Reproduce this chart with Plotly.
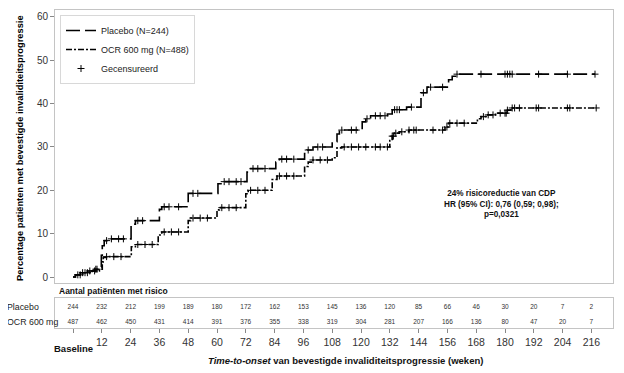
import numpy as np
import plotly.graph_objects as go

# ---------------- data ----------------
placebo_t = [0, 1, 3, 6, 9, 11, 11.8, 12.2, 13, 15, 24.2, 26, 36, 37, 48, 60.4, 62, 72.5, 74,
             84.5, 86, 96.5, 97.5, 100, 108, 110, 111, 120.5, 122, 124, 131, 133, 139, 145,
             147.5, 156.5, 158, 160, 217.5]
placebo_p = [0, 0.5, 1.0, 1.4, 1.8, 2.3, 5.0, 7.2, 8.4, 8.8, 12.2, 13.0, 15.6, 16.2, 19.3, 21.5,
             22.0, 24.2, 25.0, 26.5, 27.2, 28.5, 29.3, 30.0, 31.2, 33.0, 33.9, 35.8, 36.5, 37.2,
             37.6, 38.6, 39.2, 42.5, 43.8, 45.5, 46.3, 46.8, 46.8]
placebo_cens = [2, 4, 5, 7, 9.5, 10, 14, 16, 19, 21, 27, 29, 38, 40, 44, 50, 52, 63, 65, 68, 70,
                75, 77, 80, 87, 89, 92, 98, 102, 104, 112, 116, 118, 122.5, 126, 128, 130, 134,
                135, 136, 141, 146, 149, 154, 160, 170, 180, 181, 182, 183, 194, 206, 217.5]

ocr_t = [0, 1, 4, 8, 11, 12.2, 12.6, 14, 24.3, 26, 35.5, 37, 48, 49, 60, 61, 72, 73, 83, 85,
         96.5, 98, 100, 108, 110, 112, 132, 133, 134, 136, 140, 155, 156.5, 168.5, 170, 172, 176,
         181, 182.5, 218]
ocr_p = [0, 0.5, 1.0, 1.4, 1.8, 3.5, 4.5, 4.7, 7.0, 7.5, 9.7, 10.4, 13.0, 13.6, 15.5, 16.0,
         19.2, 20.0, 22.5, 23.3, 25.5, 26.5, 27.0, 27.5, 29.8, 30.0, 31.5, 32.5, 33.2, 33.5, 33.9,
         34.6, 35.5, 36.5, 37.0, 37.4, 37.8, 38.5, 39.0, 39.0]
ocr_cens = [3, 6, 9, 14, 17, 20, 27, 30, 33, 38, 41, 44, 50, 53, 56, 62, 65, 68, 74, 77, 80, 86,
            89, 92, 100, 103, 106, 113, 116, 119, 122, 126, 128, 131, 133, 133.5, 134.5, 137, 140,
            142, 143, 150, 154, 155.8, 157, 160, 163, 171, 173, 175, 178, 180, 180.5, 181, 183,
            184, 186, 193, 194, 206, 207, 218]

risk_weeks = list(range(0, 217, 12))
risk_placebo = [244, 232, 212, 199, 189, 180, 172, 162, 153, 145, 136, 120, 85, 66, 46, 30, 20, 7, 2]
risk_ocr = [487, 462, 450, 431, 414, 391, 376, 355, 338, 319, 304, 281, 207, 166, 136, 80, 47, 20, 7]

y_ticks = [0, 10, 20, 30, 40, 50, 60]


def step_at(ts, ps, c):
    ts = np.asarray(ts); ps = np.asarray(ps)
    idx = np.searchsorted(ts, c, side="right") - 1
    return ps[np.clip(idx, 0, len(ps) - 1)]


FONT = "Liberation Sans, Arial, sans-serif"
GRID = "#c4c4c4"

fig = go.Figure()

fig.add_trace(go.Scatter(x=placebo_t, y=placebo_p, mode="lines", line_shape="hv",
                         line=dict(color="black", width=1.6, dash="14px,5px"),
                         name="Placebo (N=244)", xaxis="x", yaxis="y"))
fig.add_trace(go.Scatter(x=ocr_t, y=ocr_p, mode="lines", line_shape="hv",
                         line=dict(color="black", width=1.6, dash="6px,2px,2px,2px"),
                         name="OCR 600 mg (N=488)", xaxis="x", yaxis="y"))
cmarker = dict(symbol="cross-thin", size=5, color="black", line=dict(color="black", width=1))
fig.add_trace(go.Scatter(x=placebo_cens, y=step_at(placebo_t, placebo_p, placebo_cens),
                         mode="markers", marker=cmarker, showlegend=False,
                         name="Gecensureerd", xaxis="x", yaxis="y"))
fig.add_trace(go.Scatter(x=ocr_cens, y=step_at(ocr_t, ocr_p, ocr_cens),
                         mode="markers", marker=cmarker, showlegend=True,
                         name="Gecensureerd", xaxis="x", yaxis="y"))

# risk table
fig.add_trace(go.Scatter(x=risk_weeks, y=[0.7] * len(risk_weeks), mode="text",
                         text=[str(v) for v in risk_placebo],
                         textfont=dict(size=6.5, color="#333", family=FONT),
                         showlegend=False, xaxis="x2", yaxis="y2", hoverinfo="skip"))
fig.add_trace(go.Scatter(x=risk_weeks, y=[0.2] * len(risk_weeks), mode="text",
                         text=[str(v) for v in risk_ocr],
                         textfont=dict(size=6.5, color="#333", family=FONT),
                         showlegend=False, xaxis="x2", yaxis="y2", hoverinfo="skip"))

# page body has an 8px margin; figure is sized so it ends at the window edge
OFF = 8
W, H = 624 - OFF, 373 - OFF
ML, MR, MT, MB = 55 - OFF, 11, 10 - OFF, 45
PW = W - ML - MR
PH = H - MT - MB


def px(xs):
    return (xs - OFF - ML) / PW


def py(ys):
    return (H - MB - (ys - OFF)) / PH


xr = [-7.5, 225]
fig.update_layout(
    width=W, height=H, autosize=False,
    margin=dict(l=ML, r=MR, t=MT, b=MB),
    paper_bgcolor="white", plot_bgcolor="white",
    font=dict(family=FONT, color="#222"),
    xaxis=dict(domain=[0, 1], anchor="y", range=xr, showticklabels=False, ticks="",
               showgrid=False, zeroline=False, showline=True, mirror=True, linecolor=GRID,
               linewidth=1),
    yaxis=dict(domain=[py(283), 1], anchor="x", range=[-1.38, 61.6], tickvals=y_ticks,
               ticks="outside", ticklen=4, tickcolor="#888", showgrid=False, zeroline=False,
               showline=True, mirror=True, linecolor=GRID, linewidth=1,
               tickfont=dict(size=10, color="#333")),
    xaxis2=dict(domain=[0, 1], anchor="y2", range=xr, matches="x", tickvals=risk_weeks,
                ticktext=[""] + [str(w) for w in risk_weeks[1:]],
                ticks="outside", ticklen=4, tickcolor="#888", showgrid=False, zeroline=False,
                showline=True, mirror=True, linecolor=GRID, linewidth=1,
                tickfont=dict(size=10.5, color="#333")),
    yaxis2=dict(domain=[0, py(298)], anchor="x2", range=[0, 1], showticklabels=False,
                ticks="", showgrid=False, zeroline=False, showline=True, mirror=True,
                linecolor=GRID, linewidth=1),
    legend=dict(x=px(60), y=py(15), xanchor="left", yanchor="top", bordercolor="#d8d8d8",
                borderwidth=1, bgcolor="white", font=dict(size=9, color="#222"),
                tracegroupgap=0),
    showlegend=True,
)

ann = []
ann.append(dict(text="<b>Percentage patiënten met bevestigde invaliditeitsprogressie</b>",
                x=px(20), y=py(148), xref="paper", yref="paper", textangle=-90,
                showarrow=False, font=dict(size=9.3, color="black"), xanchor="center",
                yanchor="middle"))
ann.append(dict(text="<b>24% risicoreductie van CDP<br>HR (95% CI): 0,76 (0,59; 0,98);<br>p=0,0321</b>",
                x=px(501), y=py(204), xref="paper", yref="paper", showarrow=False,
                align="center", font=dict(size=8.2, color="#111", family=FONT),
                xanchor="center", yanchor="middle"))
ann.append(dict(text="<b>Aantal patiënten met risico</b>", x=px(57), y=py(291),
                xref="paper", yref="paper", showarrow=False, xanchor="left", yanchor="middle",
                font=dict(size=8.5, color="#111")))
ann.append(dict(text="Placebo", x=px(5), y=py(307), xref="paper", yref="paper",
                showarrow=False, xanchor="left", yanchor="middle",
                font=dict(size=8.8, color="#222")))
ann.append(dict(text="OCR 600 mg", x=px(5), y=py(322), xref="paper", yref="paper",
                showarrow=False, xanchor="left", yanchor="middle",
                font=dict(size=8.8, color="#222")))
ann.append(dict(text="<b>Baseline</b>", x=px(73), y=py(348), xref="paper", yref="paper",
                showarrow=False, xanchor="center", yanchor="middle",
                font=dict(size=9.5, color="#111")))
ann.append(dict(text="<b><i>Time-to-onset</i> van bevestigde invaliditeitsprogressie (weken)</b>",
                x=px(345), y=py(360), xref="paper", yref="paper", showarrow=False,
                xanchor="center", yanchor="middle", font=dict(size=9.5, color="#111")))
fig.update_layout(annotations=ann)

fig.write_html("out.html")
